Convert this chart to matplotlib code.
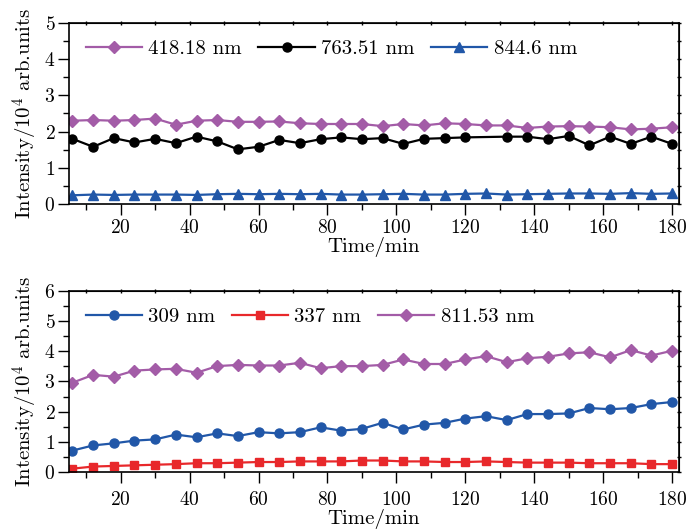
import numpy as np
import matplotlib
matplotlib.use("Agg")
import matplotlib.pyplot as plt
from matplotlib.ticker import MultipleLocator

plt.rcParams['font.family'] = 'cmr10'
plt.rcParams['mathtext.fontset'] = 'cm'
plt.rcParams['axes.formatter.use_mathtext'] = True
plt.rcParams['font.size'] = 15

# time points (min)
t = list(range(6, 181, 6))

# top panel
top_418 = [2.30, 2.32, 2.30, 2.32, 2.36, 2.19, 2.30, 2.32, 2.27, 2.27, 2.28, 2.23, 2.21, 2.21, 2.21,
           2.15, 2.21, 2.17, 2.23, 2.21, 2.17, 2.17, 2.10, 2.14, 2.15, 2.14, 2.12, 2.06, 2.08, 2.12]
t_763 = [x for x in t if x != 126]
top_763 = [1.80, 1.58, 1.82, 1.70, 1.80, 1.68, 1.86, 1.73, 1.51, 1.58, 1.77, 1.68, 1.79, 1.84, 1.79,
           1.82, 1.66, 1.80, 1.82, 1.84, 1.86, 1.86, 1.79, 1.88, 1.62, 1.86, 1.66, 1.86, 1.66]
top_844 = [0.24, 0.26, 0.25, 0.26, 0.26, 0.26, 0.25, 0.27, 0.28, 0.27, 0.28, 0.27, 0.28, 0.26, 0.26,
           0.27, 0.28, 0.26, 0.26, 0.28, 0.29, 0.26, 0.27, 0.28, 0.29, 0.29, 0.28, 0.30, 0.28, 0.29]

# bottom panel
bot_309 = [0.71, 0.88, 0.95, 1.04, 1.08, 1.24, 1.15, 1.28, 1.19, 1.32, 1.28, 1.32, 1.48, 1.37, 1.43,
           1.63, 1.41, 1.57, 1.63, 1.77, 1.85, 1.72, 1.92, 1.92, 1.94, 2.12, 2.08, 2.12, 2.25, 2.32]
bot_337 = [0.11, 0.18, 0.20, 0.22, 0.24, 0.26, 0.29, 0.29, 0.31, 0.33, 0.33, 0.35, 0.35, 0.35, 0.38,
           0.38, 0.35, 0.35, 0.33, 0.33, 0.35, 0.33, 0.31, 0.31, 0.31, 0.29, 0.29, 0.29, 0.26, 0.26]
bot_811 = [2.96, 3.22, 3.16, 3.36, 3.40, 3.42, 3.29, 3.51, 3.55, 3.53, 3.53, 3.62, 3.44, 3.51, 3.51,
           3.55, 3.73, 3.58, 3.58, 3.73, 3.84, 3.64, 3.77, 3.82, 3.93, 3.97, 3.80, 4.04, 3.86, 4.02]

purple = '#A35CA7'
blue = '#2157A8'
red = '#E8282B'

fig = plt.figure(figsize=(6.86, 5.29), dpi=100)
ax1 = fig.add_axes([0.1006, 0.6144, 0.8892, 0.3421])
ax2 = fig.add_axes([0.1006, 0.1078, 0.8892, 0.3421])

kw = dict(lw=1.6, ms=6.5)
ax1.plot(t, top_418, '-D', color=purple, label='418.18 nm', ms=6, lw=1.6)
ax1.plot(t_763, top_763, '-o', color='black', label='763.51 nm', **kw)
ax1.plot(t, top_844, '-^', color=blue, label='844.6 nm', **kw)

ax2.plot(t, bot_309, '-o', color=blue, label='309 nm', **kw)
ax2.plot(t, bot_337, '-s', color=red, label='337 nm', ms=6, lw=1.6)
ax2.plot(t, bot_811, '-D', color=purple, label='811.53 nm', ms=6, lw=1.6)

for ax, ytop, xpad, lpad in [(ax1, 5, 3, 0), (ax2, 6, 6, 0)]:
    ax.set_xlim(5, 182)
    ax.set_ylim(0, ytop)
    ax.xaxis.set_major_locator(MultipleLocator(20))
    ax.xaxis.set_minor_locator(MultipleLocator(10))
    ax.yaxis.set_major_locator(MultipleLocator(1))
    ax.yaxis.set_minor_locator(MultipleLocator(0.5))
    ax.tick_params(which='both', direction='out', width=1.0)
    ax.tick_params(which='major', length=7.8, labelsize=14)
    ax.tick_params(which='minor', length=4.3)
    ax.tick_params(axis='x', which='major', pad=xpad)
    ax.tick_params(axis='y', which='major', pad=2)
    for s in ax.spines.values():
        s.set_linewidth(1.2)

    # short ticks on the top and right spines
    sx = ax.secondary_xaxis('top')
    sx.xaxis.set_major_locator(MultipleLocator(10))
    sx.tick_params(direction='inout', length=3, width=1.0, labeltop=False)
    sy = ax.secondary_yaxis('right')
    sy.yaxis.set_major_locator(MultipleLocator(0.5))
    sy.tick_params(direction='inout', length=3, width=1.0, labelright=False)

    ax.set_xlabel('Time/min', fontsize=15, labelpad=lpad)
    ax.set_ylabel('Intensity/10$^4$ arb.units', fontsize=15, labelpad=3)
    ax.legend(loc='upper left', ncol=3, frameon=False, fontsize=15,
              handlelength=2.7, columnspacing=0.8, handletextpad=0.3,
              borderaxespad=0.4)

plt.savefig('out.png', dpi=100)
